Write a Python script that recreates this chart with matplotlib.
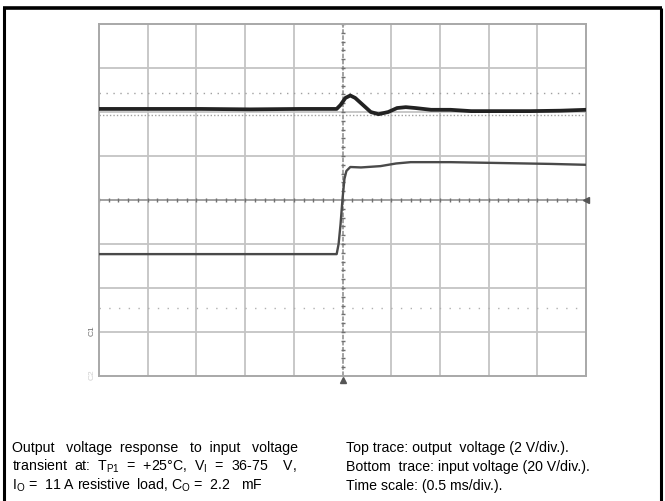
import numpy as np
import matplotlib.pyplot as plt
from matplotlib.lines import Line2D

plt.rcParams['font.family'] = ['Liberation Sans', 'DejaVu Sans']
plt.rcParams['mathtext.fontset'] = 'custom'
plt.rcParams['mathtext.rm'] = 'Liberation Sans'
plt.rcParams['mathtext.it'] = 'Liberation Sans:italic'

# time in ms (0.5 ms/div), traces in screen divisions from centre
out_t = [-2.5, -1.46, -0.95, -0.43, -0.06, -0.02, 0.03, 0.08, 0.13, 0.21, 0.29,
         0.37, 0.47, 0.56, 0.65, 0.75, 0.91, 1.11, 1.32, 1.63, 1.93, 2.24, 2.5]
out_v = [2.07, 2.07, 2.06, 2.07, 2.07, 2.16, 2.32, 2.375, 2.32, 2.16, 2.0,
         1.95, 2.0, 2.09, 2.11, 2.09, 2.05, 2.05, 2.02, 2.02, 2.02, 2.03, 2.05]

in_t = [-2.5, -1.5, -0.5, -0.06, -0.04, -0.02, 0.0, 0.02, 0.04, 0.08, 0.19,
        0.39, 0.55, 0.70, 1.11, 1.63, 2.14, 2.5]
in_v = [-1.23, -1.23, -1.23, -1.23, -1.0, -0.55, 0.02, 0.48, 0.66, 0.75, 0.74,
        0.77, 0.83, 0.86, 0.86, 0.84, 0.82, 0.80]

cursor_levels = [2.43, 1.93, -2.45]

W, H = 665, 502
fig = plt.figure(figsize=(W / 100, H / 100), dpi=100)

# outer frame (top, left, right)
fig.add_artist(Line2D([4 / W, 4 / W], [0, 1 - 9 / H], color='black', lw=2.2,
                      transform=fig.transFigure, solid_capstyle='butt'))
fig.add_artist(Line2D([661 / W, 661 / W], [0, 1 - 9 / H], color='black', lw=2.2,
                      transform=fig.transFigure, solid_capstyle='butt'))
fig.add_artist(Line2D([3 / W, 662 / W], [1 - 9 / H, 1 - 9 / H], color='black', lw=2.6,
                      transform=fig.transFigure, solid_capstyle='butt'))

left, right, top, bottom = 99, 586, 25, 377
ax = fig.add_axes([left / W, 1 - bottom / H, (right - left) / W, (bottom - top) / H])
ax.set_xlim(-2.5, 2.5)
ax.set_ylim(-4, 4)
ax.set_xticks([])
ax.set_yticks([])
for s in ax.spines.values():
    s.set_color('#a8a8a8')
    s.set_linewidth(1.4)

grid_c = '#c4c4c4'
for x in np.arange(-2.0, 2.5, 0.5):
    if abs(x) > 1e-9:
        ax.axvline(x, color=grid_c, lw=1.3, zorder=1)
for y in range(-3, 4):
    if y != 0:
        ax.axhline(y, color=grid_c, lw=1.3, zorder=1)
ax.axhline(0, color='#9a9a9a', lw=1.3, zorder=1)
ax.axvline(0, color='#8a8a8a', lw=1.1, ls=(0, (3, 1)), zorder=1)

# minor ticks on centre lines
ticks_x = np.arange(-2.5, 2.51, 0.1)
ax.plot(ticks_x, np.zeros_like(ticks_x), ls='none', marker='|', ms=3,
        mew=1.0, color='#707070', zorder=2)
ticks_y = np.arange(-4, 4.01, 0.2)
ax.plot(np.zeros_like(ticks_y), ticks_y, ls='none', marker='_', ms=3,
        mew=1.0, color='#707070', zorder=2)

# cursors
ax.axhline(cursor_levels[0], color='#a0a0a0', lw=1.0, ls=(0, (1, 4)), zorder=1)
ax.axhline(cursor_levels[1], color='#a0a0a0', lw=1.0, ls=(0, (1, 1.5)), zorder=1)
ax.axhline(cursor_levels[2], color='#b0b0b0', lw=1.0, ls=(0, (1, 6)), zorder=1)

# traces
ax.plot(out_t, out_v, color='#222222', lw=2.7, zorder=4, solid_joinstyle='round')
ax.plot(in_t, in_v, color='#4a4a4a', lw=1.7, zorder=4, solid_joinstyle='round')

# trigger markers
ax.plot([2.5], [0], marker='<', ms=5, color='#555555', clip_on=False, zorder=5)
ax.plot([0], [-4.1], marker='^', ms=4.5, color='#555555', clip_on=False, zorder=5)

# channel markers
ax.text(-2.57, -2.95, 'C1', rotation=90, fontsize=6, color='#707070',
        ha='center', va='center', clip_on=False)
ax.text(-2.57, -3.95, 'C2', rotation=90, fontsize=6, color='#d0d0d0',
        ha='center', va='center', clip_on=False)

fs = 10.2
lx, rx = 12 / W, 346 / W
ys = [1 - 452 / H, 1 - 471 / H, 1 - 490 / H]
fig.text(lx, ys[0], 'Output   voltage  response   to  input   voltage', fontsize=fs, va='baseline')
fig.text(lx, ys[1], 'transient  at:  T$_{\\mathrm{P1}}$  =  +25°C,  V$_{\\mathrm{I}}$  =  36-75    V,',
         fontsize=fs, va='baseline')
fig.text(lx, ys[2], 'I$_{\\mathrm{O}}$ =  11 A resistive  load, C$_{\\mathrm{O}}$ =  2.2   mF',
         fontsize=fs, va='baseline')
fig.text(rx, ys[0], 'Top trace: output  voltage (2 V/div.).', fontsize=fs, va='baseline')
fig.text(rx, ys[1], 'Bottom  trace: input voltage (20 V/div.).', fontsize=fs, va='baseline')
fig.text(rx, ys[2], 'Time scale: (0.5 ms/div.).', fontsize=fs, va='baseline')

fig.savefig('out.png', dpi=100)
